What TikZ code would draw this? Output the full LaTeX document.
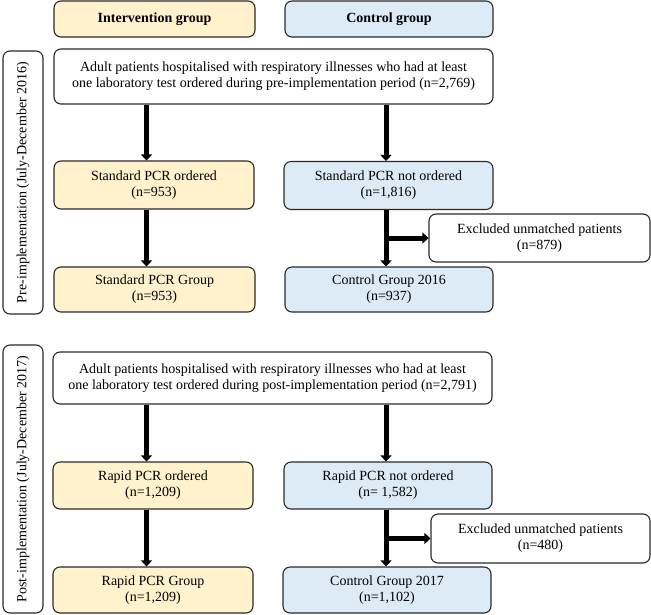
\documentclass[tikz,border=0pt]{standalone}
\usepackage{fontspec}
\setmainfont{Liberation Serif}
\usetikzlibrary{arrows.meta}
\definecolor{yel}{HTML}{FFF2CC}
\definecolor{blu}{HTML}{DDEBF7}
\definecolor{edge}{HTML}{2A2A2A}
\tikzset{
  box/.style={draw=edge, line width=1.1pt, rounded corners=7pt, align=center,
    inner sep=2pt, font=\fontsize{14}{16}\selectfont},
  yb/.style={box, fill=yel},
  bb/.style={box, fill=blu},
  wb/.style={box, fill=white},
  sidetext/.style={rotate=90, font=\fontsize{14}{16}\selectfont},
  flow/.style={line width=5pt, -{Triangle[length=6pt 0 0, width=11pt 0 0]}},
}
\newcommand{\bx}[6]{% name, style, cx, cy, w, h
  \node[#2, minimum width=#5pt, minimum height=#6pt] (#1) at (#3pt,-#4pt)}
\begin{document}
\begin{tikzpicture}[x=1pt,y=1pt]
\useasboundingbox (0,0) rectangle (651,-614);
% headers
\bx{hdrI}{yb}{154.5}{19}{201}{36} {\textbf{Intervention group}};
\bx{hdrC}{bb}{389}{19}{208}{36} {\textbf{Control group}};
% side labels
\bx{sideA}{wb}{23}{182.5}{40}{263} {};
\node[sidetext] (sideAt) at (sideA.center) {Pre-implementation (July-December 2016)};
\bx{sideB}{wb}{23}{479}{40}{268} {};
\node[sidetext] (sideBt) at (sideB.center) {Post-implementation (July-December 2017)};
% pre-implementation
\bx{topA}{wb}{273.5}{76.5}{439}{55} {Adult patients hospitalised with respiratory illnesses who had at least\\one laboratory test ordered during pre-implementation period (n=2,769)};
\bx{spo}{yb}{154}{185}{200}{48} {Standard PCR ordered\\(n=953)};
\bx{spno}{bb}{388.5}{185.5}{209}{48} {Standard PCR not ordered\\(n=1,816)};
\bx{exA}{wb}{539.5}{238}{221}{48} {Excluded unmatched patients\\(n=879)};
\bx{spg}{yb}{154.5}{289.5}{201}{45} {Standard PCR Group\\(n=953)};
\bx{cgA}{bb}{389}{289.5}{208}{45} {Control Group 2016\\(n=937)};
% post-implementation
\bx{topB}{wb}{272.5}{378}{439}{52} {Adult patients hospitalised with respiratory illnesses who had at least\\one laboratory test ordered during post-implementation period (n=2,791)};
\bx{rpo}{yb}{153}{485.5}{200}{47} {Rapid PCR ordered\\(n=1,209)};
\bx{rpno}{bb}{388}{485.5}{208}{47} {Rapid PCR not ordered\\(n= 1,582)};
\bx{exB}{wb}{540.5}{538.5}{219}{49} {Excluded unmatched patients\\(n=480)};
\bx{rpg}{yb}{153}{590}{200}{46} {Rapid PCR Group\\(n=1,209)};
\bx{cgB}{bb}{387}{590}{208}{46} {Control Group 2017\\(n=1,102)};
% arrow columns
\coordinate (ix) at (146.5,0);
\coordinate (cx) at (386,0);
\draw[flow] (topA.south -| ix) -- (spo.north -| ix);
\draw[flow] (topA.south -| cx) -- (spno.north -| cx);
\draw[flow] (spo.south -| ix) -- (spg.north -| ix);
\draw[flow] (spno.south -| cx) -- (cgA.north -| cx);
\coordinate (brA) at (exA.west -| cx);
\draw[flow] (brA) -- (exA.west);
\draw[flow] (topB.south -| ix) -- (rpo.north -| ix);
\draw[flow] (topB.south -| cx) -- (rpno.north -| cx);
\draw[flow] (rpo.south -| ix) -- (rpg.north -| ix);
\draw[flow] (rpno.south -| cx) -- (cgB.north -| cx);
\coordinate (brB) at (exB.west -| cx);
\draw[flow] (brB) -- (exB.west);
\end{tikzpicture}
\end{document}
